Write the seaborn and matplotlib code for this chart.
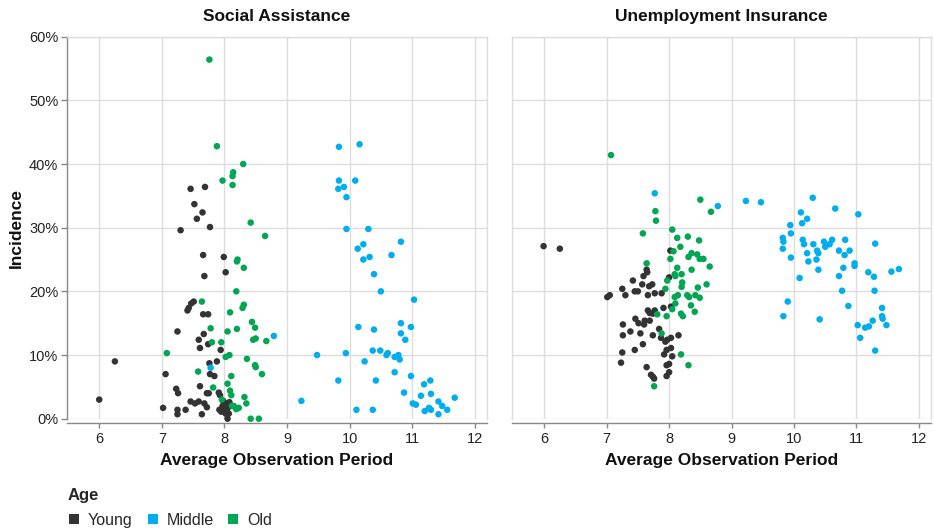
import pandas as pd
import matplotlib.pyplot as plt
import seaborn as sns
from matplotlib.ticker import PercentFormatter
from matplotlib.lines import Line2D

sns.set_theme(style="white")
plt.rcParams['font.family'] = ['Liberation Sans', 'DejaVu Sans']

# ---- data (x = avg observation period, y = incidence in %) ----
# Social Assistance
sa_young_x = [7.46, 7.69, 7.52, 7.65, 7.56, 7.77, 7.30, 7.66, 7.99, 8.02, 7.68, 7.51, 7.47, 7.43,
              7.41, 7.66, 7.74, 7.25, 7.67, 7.59, 7.74, 7.61, 7.94, 6.25, 7.88, 7.76, 7.06, 7.77,
              7.84, 7.61, 7.23, 7.26, 7.72, 7.75, 7.91, 7.93, 6.00, 7.46, 7.53, 7.59, 7.68, 7.72,
              8.02, 8.03, 7.97, 7.02, 7.25, 7.25, 7.38, 7.64, 7.92, 7.95, 8.02, 8.07, 8.05,
              7.98, 8.05, 7.99, 8.08]
sa_young_y = [36.1, 36.4, 33.7, 32.4, 31.4, 30.1, 29.6, 25.7, 25.4, 23.0, 22.4, 18.4, 18.1, 17.4,
              17.0, 16.4, 16.4, 13.7, 13.3, 12.4, 11.7, 11.1, 10.8, 9.0, 9.0, 8.7, 7.0, 7.0,
              6.7, 5.1, 4.7, 4.0, 4.0, 4.0, 4.1, 3.7, 3.0, 2.7, 2.4, 2.7, 2.4, 1.8,
              2.4, 2.1, 2.0, 1.7, 1.4, 0.7, 1.4, 0.7, 1.4, 1.1, 0.8, 0.8, 0.0,
              2.8, 1.6, 1.2, 2.6]

sa_middle_x = [8.79, 7.78, 9.23, 9.83, 10.16, 9.83, 10.09, 9.82, 9.91, 9.95, 9.95, 10.30, 10.13,
               10.22, 10.82, 10.22, 10.32, 10.67, 10.39, 10.50, 11.03, 10.14, 10.39, 10.82, 10.98,
               10.82, 10.89, 9.48, 9.94, 10.37, 10.49, 10.59, 10.61, 10.72, 10.78, 10.80, 10.24,
               10.72, 10.98, 9.82, 10.42, 11.19, 11.29, 10.87, 11.30, 11.14, 11.68, 11.42, 11.01,
               11.06, 11.48, 10.11, 10.37, 11.27, 11.30, 11.20, 11.56, 11.42]
sa_middle_y = [13.0, 8.0, 2.8, 42.7, 43.1, 37.4, 37.4, 36.1, 36.4, 34.8, 29.8, 29.8, 26.7,
               27.4, 27.8, 25.0, 25.4, 25.7, 22.7, 20.0, 18.7, 14.4, 14.0, 15.0, 14.4,
               13.4, 12.4, 10.0, 10.3, 10.7, 10.7, 10.0, 10.3, 9.7, 10.0, 9.3, 9.0,
               7.3, 6.7, 6.0, 6.0, 5.4, 6.0, 4.1, 3.9, 3.6, 3.3, 2.7, 2.4,
               2.2, 2.0, 1.4, 1.4, 1.7, 1.4, 1.2, 1.4, 0.7]

sa_old_x = [7.76, 7.88, 8.30, 8.14, 8.13, 7.97, 8.13, 8.42, 8.65, 8.21, 8.20, 8.31, 8.19, 7.64,
            8.31, 8.29, 8.09, 8.44, 8.49, 8.20, 7.78, 8.05, 8.50, 8.46, 8.67, 7.80, 7.95, 7.08,
            8.08, 8.02, 8.36, 8.49, 8.50, 7.58, 8.60, 8.11, 8.05, 7.82, 8.09, 8.11, 8.32, 7.96,
            8.12, 8.15, 8.35, 8.19, 8.23, 8.42, 8.55]
sa_old_y = [56.4, 42.8, 40.0, 38.7, 38.1, 37.4, 36.7, 30.8, 28.7, 25.0, 24.7, 23.7, 20.0, 18.4,
            17.9, 17.4, 16.7, 15.2, 14.3, 14.1, 14.2, 13.7, 12.6, 12.4, 12.2, 12.0, 12.0, 10.3,
            10.0, 9.7, 9.4, 8.4, 8.1, 7.4, 7.0, 6.7, 5.5, 4.9, 4.4, 3.7, 3.4, 3.0,
            2.0, 2.0, 2.4, 1.5, 1.7, 0.0, 0.0]

# Unemployment Insurance
ui_young_x = [5.99, 6.25, 8.02, 7.64, 7.65, 7.59, 8.00, 7.42, 7.57, 7.68, 7.73, 7.25, 7.45, 7.50,
              7.66, 7.77, 7.88, 7.30, 7.05, 7.01, 8.03, 7.91, 7.66, 7.69, 7.77, 7.74, 7.46, 7.61,
              7.69, 7.51, 7.60, 7.26, 7.84, 7.38, 7.54, 7.74, 8.15, 7.26, 7.87, 8.03, 7.97, 7.94,
              7.58, 8.03, 7.96, 7.45, 7.25, 7.92, 8.05, 7.23, 8.00, 7.96, 7.64, 8.00, 7.71, 7.96,
              7.74, 7.76]
ui_young_y = [27.1, 26.7, 26.4, 23.4, 23.0, 22.4, 22.2, 21.7, 21.1, 20.8, 21.1, 20.4, 20.0, 20.0,
              19.4, 19.7, 19.7, 19.4, 19.4, 19.1, 17.6, 17.4, 17.0, 16.6, 17.0, 16.5, 15.7, 15.4,
              15.4, 15.0, 14.8, 14.8, 14.1, 13.7, 13.4, 13.1, 13.1, 13.1, 12.7, 12.7, 12.4, 12.1,
              11.7, 11.1, 10.8, 10.8, 10.4, 10.1, 9.8, 8.8, 8.6, 8.4, 8.1, 7.3, 6.9, 6.7,
              6.6, 6.3]

ui_middle_x = [7.77, 8.78, 9.23, 9.47, 10.30, 10.66, 11.03, 10.11, 10.21, 10.13, 9.94, 9.95, 9.82,
               9.83, 9.82, 10.14, 10.16, 10.31, 10.48, 10.50, 10.57, 10.61, 10.82, 11.30, 10.37,
               10.39, 10.21, 10.72, 10.89, 10.81, 9.95, 10.36, 10.23, 10.97, 10.97, 10.79, 11.56,
               11.68, 11.19, 11.28, 10.39, 10.72, 10.09, 10.77, 11.29, 9.90, 10.87, 11.41, 9.83,
               10.41, 11.41, 11.42, 11.48, 11.02, 11.26, 11.20, 11.14, 11.06, 11.30]
ui_middle_y = [35.4, 33.4, 34.2, 34.0, 34.7, 33.0, 32.1, 32.4, 31.4, 30.7, 30.4, 29.1, 28.4,
               27.8, 26.7, 28.1, 27.4, 27.4, 27.8, 27.0, 27.4, 28.1, 28.1, 27.5, 26.4,
               26.0, 26.0, 26.4, 26.4, 25.7, 25.3, 25.0, 24.7, 24.4, 24.0, 23.7, 23.1,
               23.5, 23.0, 22.3, 23.4, 22.4, 22.1, 20.1, 20.1, 18.4, 17.7, 17.4, 16.1,
               15.6, 16.1, 15.7, 14.7, 14.7, 15.4, 14.5, 14.3, 12.7, 10.7]

ui_old_x = [7.07, 7.78, 7.79, 8.50, 8.67, 7.58, 8.05, 8.13, 8.30, 8.48, 8.18, 8.07, 8.36, 8.45,
            8.31, 8.49, 8.55, 8.02, 7.64, 8.65, 8.13, 8.36, 8.09, 8.10, 8.20, 7.97, 8.21, 8.20,
            8.60, 8.46, 7.94, 8.09, 8.14, 8.29, 8.32, 8.42, 8.49, 8.10, 8.05, 8.35, 8.41, 7.81,
            7.96, 8.19, 8.22, 7.88, 8.19, 8.31, 7.76]
ui_old_y = [41.4, 32.6, 31.1, 34.4, 32.5, 29.1, 29.7, 28.4, 28.6, 28.0, 27.0, 26.3, 26.0, 25.8,
            25.4, 25.1, 25.1, 25.1, 24.4, 23.9, 23.7, 23.4, 22.7, 22.4, 22.7, 21.7, 21.4, 20.7,
            21.1, 20.6, 20.4, 19.1, 19.4, 19.4, 19.1, 19.4, 19.0, 18.1, 17.2, 17.8, 16.8, 16.4,
            16.1, 16.5, 16.1, 13.4, 10.1, 8.4, 5.1]

programs = ['Social Assistance', 'Unemployment Insurance']
ages = ['Young', 'Middle', 'Old']
palette = {'Young': '#333333', 'Middle': '#00AEEF', 'Old': '#00A651'}

series = {
    ('Social Assistance', 'Young'): (sa_young_x, sa_young_y),
    ('Social Assistance', 'Middle'): (sa_middle_x, sa_middle_y),
    ('Social Assistance', 'Old'): (sa_old_x, sa_old_y),
    ('Unemployment Insurance', 'Young'): (ui_young_x, ui_young_y),
    ('Unemployment Insurance', 'Middle'): (ui_middle_x, ui_middle_y),
    ('Unemployment Insurance', 'Old'): (ui_old_x, ui_old_y),
}
frames = []
for (prog, age), (xs, ys) in series.items():
    frames.append(pd.DataFrame({'Program': prog, 'Age': age, 'Period': xs, 'Incidence': ys}))
df = pd.concat(frames, ignore_index=True)

fig = plt.figure(figsize=(9.34, 5.30), dpi=100)
ax1 = fig.add_axes([0.0714, 0.210, 0.4503, 0.7208])
ax2 = fig.add_axes([0.5479, 0.210, 0.4493, 0.7208])

grid_c = '#dddddd'
axis_c = '#888888'
text_c = '#222222'

for ax, prog in zip([ax1, ax2], programs):
    sub = df[df['Program'] == prog]
    sns.scatterplot(data=sub, x='Period', y='Incidence', hue='Age', hue_order=ages,
                    palette=palette, s=22, linewidth=0, legend=False, ax=ax, clip_on=False,
                    zorder=3)
    ax.set_xlim(5.48, 12.2)
    ax.set_ylim(0, 60)
    ax.set_xticks(range(6, 13))
    ax.set_yticks(range(0, 61, 10))
    ax.yaxis.set_major_formatter(PercentFormatter(100, decimals=0))
    ax.grid(True, color=grid_c, linewidth=1)
    ax.set_axisbelow(True)
    for side in ['top', 'right', 'left']:
        ax.spines[side].set_color(grid_c)
        ax.spines[side].set_linewidth(1)
    ax.spines['bottom'].set_position(('outward', 3))
    ax.spines['bottom'].set_color(axis_c)
    ax.spines['bottom'].set_linewidth(1)
    ax.tick_params(axis='x', bottom=True, length=3.5, width=1, color=axis_c,
                   labelsize=10.5, labelcolor=text_c, pad=3)
    ax.set_title(prog, fontsize=12.5, fontweight='bold', color='#111111', pad=11.5)
    ax.set_xlabel('Average Observation Period', fontsize=12.5, fontweight='bold',
                  color='#111111', labelpad=5)

ax1.spines['left'].set_color(axis_c)
ax1.tick_params(axis='y', left=True, length=4, width=1, color=axis_c,
                labelsize=10.5, labelcolor=text_c, pad=2)
ax1.set_ylabel('Incidence', fontsize=12.5, fontweight='bold', color='#111111', labelpad=4)
ax2.tick_params(axis='y', left=False, labelleft=False)
ax2.set_ylabel('')

handles = [Line2D([], [], marker='s', linestyle='none', markersize=7.2,
                  markerfacecolor=palette[a], markeredgewidth=0) for a in ages]
leg = fig.legend(handles, ages, title='Age', loc='upper left',
                 bbox_to_anchor=(68 / 934, 1 - 488 / 530), ncol=3, frameon=False,
                 fontsize=11.5, title_fontproperties={'weight': 'bold', 'size': 12},
                 handlelength=0.8, handletextpad=0.45, columnspacing=0.85,
                 labelspacing=0.6, borderpad=0, borderaxespad=0)
leg._legend_box.align = 'left'

fig.savefig('out.png', dpi=100)
